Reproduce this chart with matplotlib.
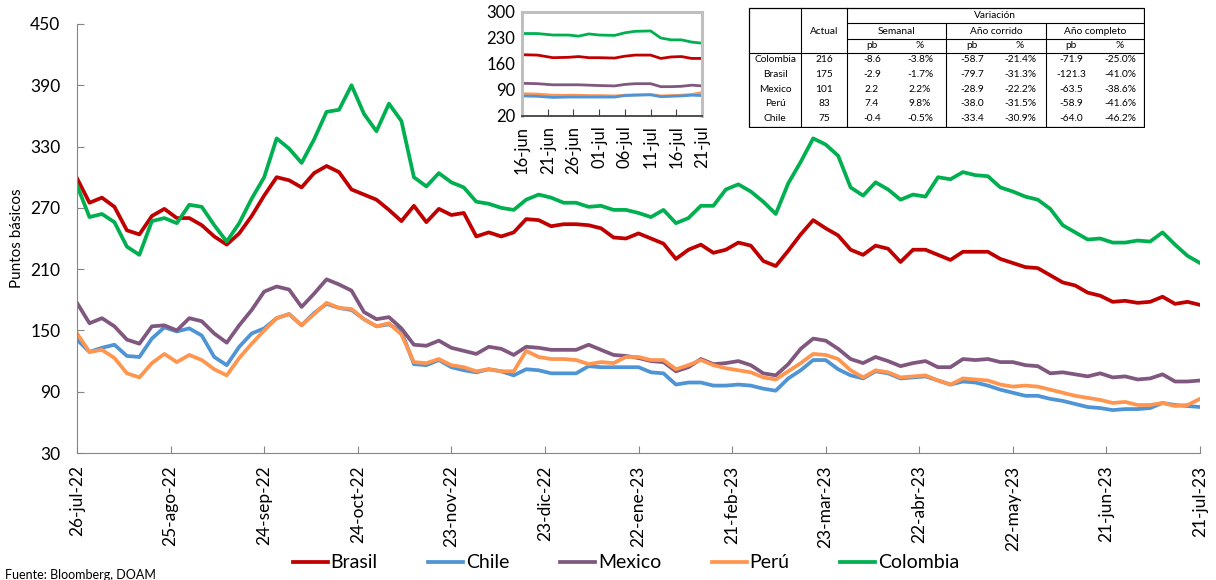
import numpy as np
import matplotlib
matplotlib.use('Agg')
import matplotlib.pyplot as plt
import matplotlib.font_manager as fm


def pick_font(candidates):
    available = {f.name for f in fm.fontManager.ttflist}
    for name in candidates:
        if name in available:
            return name
    return 'DejaVu Sans'


FONT = pick_font(['Lato', 'Liberation Sans', 'DejaVu Sans'])
plt.rcParams['font.family'] = [FONT, 'DejaVu Sans']

# --- main chart: one reading every 4 days from 26-jul-22 to 21-jul-23 ---
START = np.datetime64('2022-07-26')
dates = START + np.arange(0, 361, 4).astype('timedelta64[D]')

brasil = [299, 275, 280, 271, 248, 244, 262, 269, 260, 260, 253, 242, 234, 245, 262, 282,
          300, 297, 290, 304, 311, 305, 288, 283, 278, 268, 257, 272, 256, 269, 263, 265,
          242, 246, 242, 246, 259, 258, 252, 254, 254, 253, 250, 241, 240, 245, 240, 235,
          220, 229, 234, 226, 229, 236, 233, 218, 213, 228, 244, 258, 250, 243, 229, 224,
          233, 230, 217, 229, 229, 224, 219, 227, 227, 227, 220, 216, 212, 211, 204, 197,
          194, 187, 184, 178, 179, 177, 178, 183, 176, 178, 175]
chile = [141, 129, 133, 136, 125, 124, 142, 153, 149, 152, 145, 124, 116, 134, 147, 152,
         162, 166, 155, 167, 176, 172, 170, 161, 154, 156, 149, 117, 116, 121, 114, 111,
         109, 112, 110, 106, 112, 111, 108, 108, 108, 115, 114, 114, 114, 114, 109, 108,
         97, 99, 99, 96, 96, 97, 96, 93, 91, 103, 111, 121, 121, 112, 106, 103,
         110, 108, 103, 104, 105, 101, 97, 100, 99, 96, 92, 89, 86, 86, 83, 81,
         78, 75, 74, 72, 73, 73, 74, 79, 77, 76, 75]
mexico = [177, 157, 162, 154, 141, 137, 154, 155, 150, 162, 159, 147, 138, 155, 170, 188,
          193, 190, 173, 186, 200, 195, 189, 168, 161, 163, 152, 136, 135, 140, 133, 130,
          127, 134, 132, 126, 134, 133, 131, 131, 131, 136, 131, 126, 125, 123, 120, 119,
          110, 114, 122, 117, 118, 120, 116, 108, 106, 117, 132, 142, 140, 132, 122, 118,
          124, 120, 115, 118, 120, 114, 114, 122, 121, 122, 119, 119, 116, 115, 108, 109,
          107, 105, 108, 104, 105, 102, 103, 107, 100, 100, 101]
peru = [147, 129, 131, 123, 108, 104, 118, 127, 119, 126, 121, 112, 106, 123, 137, 150,
        162, 166, 155, 166, 177, 172, 171, 161, 154, 157, 146, 119, 118, 122, 116, 114,
        110, 112, 110, 110, 130, 124, 122, 122, 121, 117, 119, 118, 124, 124, 121, 121,
        112, 116, 121, 116, 113, 111, 109, 104, 102, 110, 118, 127, 126, 122, 111, 104,
        111, 109, 104, 105, 106, 101, 97, 103, 102, 101, 97, 95, 96, 95, 92, 89,
        86, 84, 82, 79, 80, 77, 77, 79, 76, 77, 83]
colombia = [292, 261, 264, 256, 232, 224, 257, 260, 255, 273, 271, 253, 237, 255, 279, 300,
            338, 328, 314, 337, 364, 366, 390, 362, 345, 372, 355, 300, 291, 304, 295, 290,
            276, 274, 270, 268, 278, 283, 280, 275, 275, 271, 272, 268, 268, 265, 261, 268,
            255, 260, 272, 272, 288, 293, 286, 276, 264, 294, 315, 338, 332, 321, 290, 282,
            295, 288, 278, 283, 281, 300, 298, 305, 302, 301, 290, 286, 281, 278, 269, 253,
            246, 239, 240, 236, 236, 238, 237, 246, 234, 223, 216]

tick_dates = START + np.arange(0, 361, 30).astype('timedelta64[D]')
tick_labels = ['26-jul-22', '25-ago-22', '24-sep-22', '24-oct-22', '23-nov-22', '23-dic-22',
               '22-ene-23', '21-feb-23', '23-mar-23', '22-abr-23', '22-may-23', '21-jun-23',
               '21-jul-23']

# --- inset: last weeks, 16-jun to 21-jul ---
IN_START = np.datetime64('2023-06-16')
in_dates = IN_START + np.array([0, 3, 6, 9, 11, 13, 15, 18, 20, 22, 25, 27, 29, 31, 33, 35]).astype('timedelta64[D]')
in_colombia = [242, 242, 238, 238, 235, 241, 238, 237, 244, 248, 249, 230, 225, 225, 219, 216]
in_brasil = [185, 184, 177, 178, 180, 177, 177, 176, 181, 184, 184, 175, 179, 180, 175, 175]
in_mexico = [108, 107, 104, 104, 104, 103, 102, 101, 105, 107, 107, 99, 99, 100, 103, 101]
in_peru = [80, 79, 76, 76, 76, 75, 75, 74, 76, 77, 78, 74, 75, 76, 78, 83]
in_chile = [74, 73, 70, 71, 71, 71, 71, 71, 75, 76, 77, 72, 73, 74, 76, 75]
in_tick_dates = IN_START + np.arange(0, 36, 5).astype('timedelta64[D]')
in_tick_labels = ['16-jun', '21-jun', '26-jun', '01-jul', '06-jul', '11-jul', '16-jul', '21-jul']

# --- summary table ---
table_rows = ['Colombia', 'Brasil', 'Mexico', 'Perú', 'Chile']
actual = [216, 175, 101, 83, 75]
sem_pb = [-8.6, -2.9, 2.2, 7.4, -0.4]
sem_pct = [-3.8, -1.7, 2.2, 9.8, -0.5]
ytd_pb = [-58.7, -79.7, -28.9, -38.0, -33.4]
ytd_pct = [-21.4, -31.3, -22.2, -31.5, -30.9]
yoy_pb = [-71.9, -121.3, -63.5, -58.9, -64.0]
yoy_pct = [-25.0, -41.0, -38.6, -41.6, -46.2]

COLORS = {'Brasil': '#C00000', 'Chile': '#4F94D4', 'Mexico': '#80587F',
          'Perú': '#FF954F', 'Colombia': '#00B050'}

W, H = 1216, 580
fig = plt.figure(figsize=(W / 100, H / 100), dpi=100)

# main axes
ax = fig.add_axes([77 / W, 1 - 453 / H, 1123 / W, 429 / H])
series = [('Brasil', brasil), ('Chile', chile), ('Mexico', mexico),
          ('Perú', peru), ('Colombia', colombia)]
for name, vals in series:
    ax.plot(dates, vals, color=COLORS[name], lw=2.7, label=name, solid_joinstyle='round')

ax.set_ylim(30, 450)
ax.set_yticks(range(30, 451, 60))
ax.set_xlim(tick_dates[0], tick_dates[-1])
ax.set_xticks(tick_dates)
ax.set_xticklabels(tick_labels, rotation=90, va='top', ha='center')
ax.tick_params(axis='both', direction='in', length=5, color='#868686', labelsize=12.5)
ax.tick_params(axis='y', pad=12)
ax.tick_params(axis='x', pad=9)
for s in ('top', 'right'):
    ax.spines[s].set_visible(False)
for s in ('left', 'bottom'):
    ax.spines[s].set_color('#868686')
ax.set_ylabel('Puntos básicos', fontsize=11)
ax.yaxis.set_label_coords(-0.047, 0.5)

# inset
ins = fig.add_axes([522 / W, 1 - 116 / H, 180 / W, 104 / H])
for name, vals in [('Colombia', in_colombia), ('Brasil', in_brasil), ('Mexico', in_mexico),
                   ('Perú', in_peru), ('Chile', in_chile)]:
    ins.plot(in_dates, vals, color=COLORS[name], lw=2.0)
ins.set_ylim(20, 300)
ins.set_yticks([20, 90, 160, 230, 300])
ins.set_xlim(in_tick_dates[0], in_tick_dates[-1])
ins.set_xticks(in_tick_dates)
ins.set_xticklabels(in_tick_labels, rotation=90, va='top', ha='center')
ins.tick_params(axis='both', direction='in', length=5, color='#404040', labelsize=12)
ins.tick_params(axis='y', length=0, pad=5)
ins.tick_params(axis='x', pad=7)
for s in ('top', 'right', 'left'):
    ins.spines[s].set_color('#BFBFBF')
    ins.spines[s].set_linewidth(2.2)
ins.spines['bottom'].set_color('#404040')
ins.spines['bottom'].set_linewidth(1.3)

# table drawn in pixel coordinates of the reference layout
tax = fig.add_axes([748 / W, 1 - 128 / H, 397 / W, 121 / H])
tax.set_xlim(748, 1145)
tax.set_ylim(128, 7)
tax.axis('off')
tax.add_patch(plt.Rectangle((749, 8), 395, 119, facecolor='white', edgecolor='black', lw=0.9))
lk = dict(color='black', lw=0.8)
tax.plot([801, 801], [8, 127], **lk)
tax.plot([847, 847], [8, 127], **lk)
tax.plot([946, 946], [23, 127], **lk)
tax.plot([1046, 1046], [23, 127], **lk)
tax.plot([847, 1144], [23, 23], **lk)
tax.plot([847, 1144], [39, 39], **lk)
tax.plot([749, 1144], [53, 53], **lk)

fs = 7.3
tax.text(995, 16, 'Variación', ha='center', va='center', fontsize=fs)
tax.text(824, 31, 'Actual', ha='center', va='center', fontsize=fs)
for cx, lab in [(896, 'Semanal'), (996, 'Año corrido'), (1095, 'Año completo')]:
    tax.text(cx, 31, lab, ha='center', va='center', fontsize=fs)
col_x = [872, 920, 972, 1020, 1071, 1120]
for i, cx in enumerate(col_x):
    tax.text(cx, 46, 'pb' if i % 2 == 0 else '%', ha='center', va='center', fontsize=fs)
for r, name in enumerate(table_rows):
    y = 60 + r * 14.6
    tax.text(775, y, name, ha='center', va='center', fontsize=fs)
    tax.text(824, y, f'{actual[r]}', ha='center', va='center', fontsize=fs)
    cells = [f'{sem_pb[r]:.1f}', f'{sem_pct[r]:.1f}%', f'{ytd_pb[r]:.1f}', f'{ytd_pct[r]:.1f}%',
             f'{yoy_pb[r]:.1f}', f'{yoy_pct[r]:.1f}%']
    for cx, txt in zip(col_x, cells):
        tax.text(cx, y, txt, ha='center', va='center', fontsize=fs)

# legend
handles, labels = ax.get_legend_handles_labels()
fig.legend(handles, labels, loc='center', bbox_to_anchor=(626 / W, 1 - 563 / H), ncol=5,
           frameon=False, fontsize=14, handlelength=1.8, handletextpad=0.15,
           columnspacing=2.6)

fig.text(5 / W, 1 - 569 / H, 'Fuente: Bloomberg, DOAM', ha='left', va='top', fontsize=9)

fig.savefig('out.png', dpi=100, facecolor='white')
